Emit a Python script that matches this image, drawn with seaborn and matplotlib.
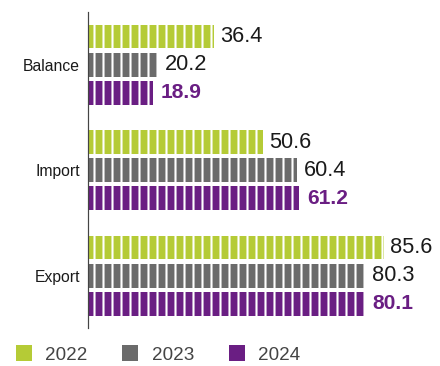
import matplotlib
matplotlib.use("Agg")
import matplotlib.pyplot as plt
from matplotlib.lines import Line2D
import pandas as pd
import seaborn as sns

# Trade figures by category and year
categories = ["Balance", "Import", "Export"]
years = ["2022", "2023", "2024"]
values_2022 = [36.4, 50.6, 85.6]
values_2023 = [20.2, 60.4, 80.3]
values_2024 = [18.9, 61.2, 80.1]

colors = ["#B5CB36", "#6B6B6B", "#6A1E83"]

df = pd.DataFrame({
    "category": categories * 3,
    "year": [y for y in years for _ in categories],
    "value": values_2022 + values_2023 + values_2024,
})

sns.set_style("white")
plt.rcParams["font.family"] = ["Liberation Sans", "DejaVu Sans"]
plt.rcParams["hatch.linewidth"] = 1.4

DPI = 108
fig = plt.figure(figsize=(440 / DPI, 366 / DPI), dpi=DPI)
ax = fig.add_axes([88 / 440, 37.6 / 366, 343 / 440, 316.5 / 366])

sns.barplot(
    data=df, x="value", y="category", hue="year",
    order=categories, hue_order=years, palette=colors,
    orient="h", saturation=1, gap=0.15, errorbar=None,
    hatch="||", edgecolor="white", linewidth=0, legend=False, ax=ax,
)

ax.set_xlim(0, 99.3)
ax.set_ylim(2.5, -0.5)
ax.set_xlabel("")
ax.set_ylabel("")
ax.set_xticks([])
ax.tick_params(axis="y", length=0, pad=5.3, labelsize=10.5, labelcolor="#1a1a1a")

for side in ["top", "right", "bottom"]:
    ax.spines[side].set_visible(False)
ax.spines["left"].set_color("#444444")
ax.spines["left"].set_linewidth(0.8)

# Value labels at the end of each bar
for i, cont in enumerate(ax.containers):
    if i == 2:
        ax.bar_label(cont, fmt="{:.1f}", padding=5, fontsize=14,
                     color=colors[2], fontweight="bold")
    else:
        ax.bar_label(cont, fmt="{:.1f}", padding=4.5, fontsize=14.5,
                     color="#1a1a1a")

handles = [Line2D([], [], linestyle="none", marker="s", markersize=10.7,
                  markerfacecolor=c, markeredgewidth=0) for c in colors]
fig.legend(handles, years, loc="center left",
           bbox_to_anchor=(16 / 440, 1 - 355 / 366), ncol=3, frameon=False,
           fontsize=12.6, labelcolor="#444444", borderpad=0, borderaxespad=0,
           handlelength=0.85, handletextpad=0.69, columnspacing=1.85)

fig.savefig("out.png", dpi=DPI)
